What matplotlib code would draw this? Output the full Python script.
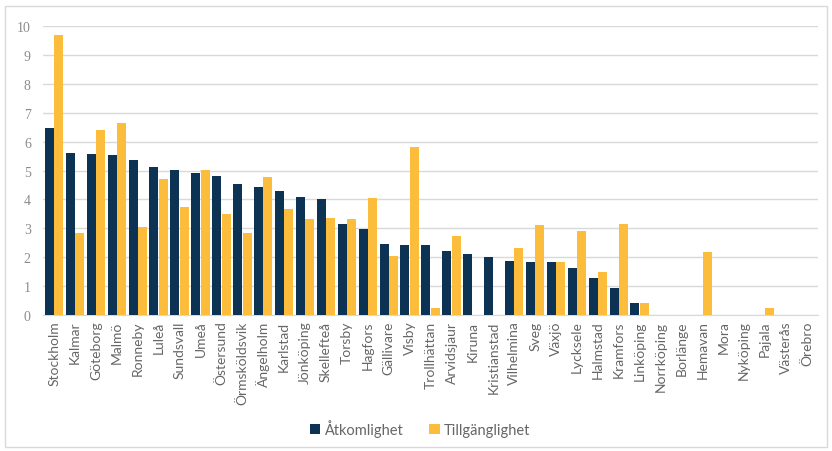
import matplotlib.pyplot as plt
import numpy as np

plt.rcParams['font.family'] = ['Lato', 'DejaVu Sans']

cities = ['Stockholm', 'Kalmar', 'Göteborg', 'Malmö', 'Ronneby', 'Luleå', 'Sundsvall',
          'Umeå', 'Östersund', 'Örmsköldsvik', 'Ängelholm', 'Karlstad', 'Jönköping',
          'Skellefteå', 'Torsby', 'Hagfors', 'Gällivare', 'Visby', 'Trollhättan',
          'Arvidsjaur', 'Kiruna', 'Kristianstad', 'Vilhelmina', 'Sveg', 'Växjö',
          'Lycksele', 'Halmstad', 'Kramfors', 'Linköping', 'Norrköping', 'Borlänge',
          'Hemavan', 'Mora', 'Nyköping', 'Pajala', 'Västerås', 'Örebro']

atkomlighet = [6.46, 5.61, 5.57, 5.55, 5.35, 5.13, 5.03, 4.91, 4.81, 4.55, 4.42, 4.30,
               4.08, 4.00, 3.16, 2.97, 2.46, 2.42, 2.42, 2.21, 2.10, 1.99, 1.87, 1.83,
               1.83, 1.63, 1.27, 0.95, 0.42, 0, 0, 0, 0, 0, 0, 0, 0]

tillganglighet = [9.70, 2.83, 6.40, 6.66, 3.04, 4.71, 3.75, 5.03, 3.49, 2.83, 4.76, 3.66,
                  3.31, 3.36, 3.33, 4.06, 2.05, 5.80, 0.24, 2.73, 0, 0, 2.32, 3.10,
                  1.85, 2.89, 1.50, 3.14, 0.42, 0, 0, 2.18, 0, 0, 0.24, 0, 0]

navy = '#0c3354'
gold = '#fbbd3b'

fig = plt.figure(figsize=(8.32, 4.52), dpi=100)
ax = fig.add_axes([0.052, 0.301, 0.931, 0.639])

x = np.arange(len(cities))
w = 0.43
ax.bar(x - w / 2 - 0.01, atkomlighet, w, color=navy, label='Åtkomlighet', zorder=3)
ax.bar(x + w / 2 + 0.01, tillganglighet, w, color=gold, label='Tillgänglighet', zorder=3)

ax.set_xlim(-0.52, len(cities) - 0.48)
ax.set_ylim(0, 10)
ax.set_yticks(range(0, 11))
ax.yaxis.grid(True, color='#d9d9d9', linewidth=1, zorder=0)
ax.set_xticks(x)
ax.set_xticklabels(cities, rotation=90, fontsize=10, color='#666666')
for lbl in ax.get_yticklabels():
    lbl.set_family('Liberation Serif')
ax.tick_params(axis='y', labelsize=10, labelcolor='#8c8c8c', length=0, pad=9)
ax.tick_params(axis='x', length=0, pad=4)
for s in ['top', 'right', 'left']:
    ax.spines[s].set_visible(False)
ax.spines['bottom'].set_color('#d9d9d9')

fig.legend(loc='center', bbox_to_anchor=(0.505, 0.05), ncol=2, frameon=False,
           fontsize=10.5, handlelength=0.7, handleheight=0.7, handletextpad=0.3,
           columnspacing=1.8, labelcolor='#666666')

border = plt.Rectangle((0.006, 0.008), 0.988, 0.977, transform=fig.transFigure,
                       fill=False, edgecolor='#d9d9d9', linewidth=1)
fig.patches.append(border)

fig.savefig('out.png', dpi=100)
